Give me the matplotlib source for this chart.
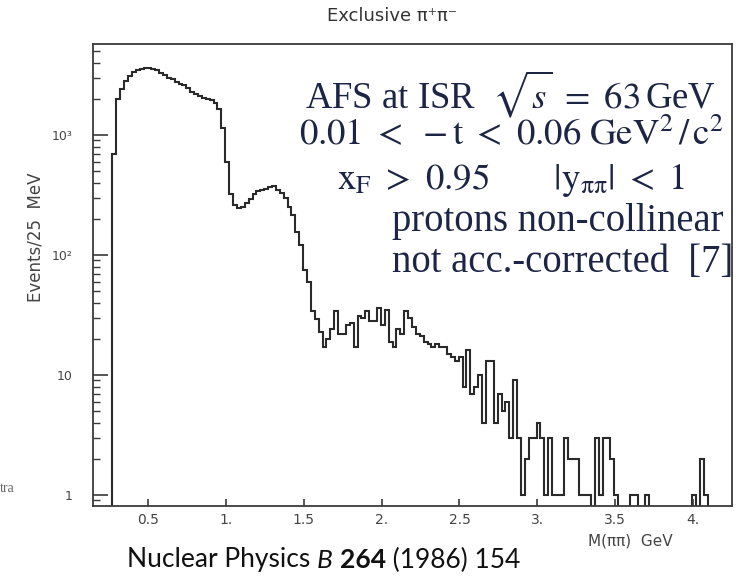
import numpy as np
import matplotlib
matplotlib.use("Agg")
import matplotlib.pyplot as plt
from matplotlib.ticker import FixedLocator, LogLocator, NullFormatter

# histogram: 25 MeV bins starting at 0.27 GeV
bin_start = 0.27
bin_width = 0.025
counts = [
    700, 2000, 2400, 2800, 3100, 3350, 3450, 3550, 3650, 3650,
    3550, 3450, 3300, 3150, 3000, 2900, 2780, 2680, 2600, 2450,
    2300, 2180, 2100, 2050, 2000, 1950, 1850, 1650, 1150, 590,
    325, 261, 248, 250, 270, 291, 320, 340, 350, 356,
    370, 375, 350, 330, 300, 250, 215, 155, 120, 75,
    60, 34, 29, 23, 17, 20, 24, 34, 22, 22,
    26, 27, 17, 31, 30, 34, 28, 28, 36, 26,
    35, 19, 17, 24, 22, 34, 30, 25, 22, 21,
    19, 18, 17, 18, 17, 17, 15, 14, 13, 14,
    8, 16, 7, 8, 10, 4, 13, 13, 4, 7,
    5, 6, 3, 9, 3, 1, 2, 3, 3, 4,
    3, 1, 3, 1, 1, 1, 3, 2, 2, 2,
    1, 1, 1, 0, 3, 1, 3, 3, 2, 1,
    0, 0, 0, 1, 1, 0, 0, 1, 0, 0,
    0, 0, 0, 0, 0, 0, 0, 0, 0, 1,
    0, 2, 1, 0,
]

x_ticks = [0.5, 1.0, 1.5, 2.0, 2.5, 3.0, 3.5, 4.0]
x_ticklabels = ["0.5", "1.", "1.5", "2.", "2.5", "3.", "3.5", "4."]
y_ticks = [1, 10, 100, 1000]
y_ticklabels = ["1", "10", "10²", "10³"]

info_lines = [
    r"AFS at ISR  $\sqrt{s}\ =\ 63\,$GeV",
    r"$0.01\ <\ -\mathrm{t}\ <\ 0.06\ \mathrm{GeV}^2\,/\,\mathrm{c}^2$",
    r"$\mathrm{x}_\mathrm{F}\ >\ 0.95$       $|\mathrm{y}_{\mathrm{\pi\pi}}|\ <\ 1$",
]
note_lines = ["protons non-collinear", "not acc.-corrected  [7]"]

plt.rcParams["mathtext.fontset"] = "stix"

W, H = 744, 577
fig = plt.figure(figsize=(W / 100, H / 100), dpi=100)
ax = fig.add_axes([93 / W, 1 - 505.7 / H, (732.3 - 93) / W, (505.7 - 44) / H])

edges = bin_start + bin_width * np.arange(len(counts) + 1)
vals = np.array(counts, dtype=float)
vals = np.where(vals > 0, vals, 0.3)
ax.stairs(vals, edges, baseline=0.3, color="#2a2a2a", lw=1.5)

ax.set_yscale("log")
ax.set_xlim(0.145, 4.253)
ax.set_ylim(0.814, 5730)

ink = "#3a3a3a"
for s in ax.spines.values():
    s.set_color(ink)
    s.set_linewidth(1.3)

ax.xaxis.set_major_locator(FixedLocator(x_ticks))
ax.set_xticklabels(x_ticklabels)
ax.yaxis.set_major_locator(FixedLocator(y_ticks))
ax.set_yticklabels(y_ticklabels)
ax.yaxis.set_minor_locator(LogLocator(base=10, subs=np.arange(2, 10)))
ax.yaxis.set_minor_formatter(NullFormatter())
ax.tick_params(axis="both", which="both", direction="in", colors=ink,
               top=False, right=False, labelsize=10, labelcolor="#444444")
ax.tick_params(axis="y", labelsize=9)
ax.tick_params(axis="x", which="major", length=5, width=1.2, pad=5)
ax.tick_params(axis="y", which="major", length=11, width=1.2, pad=15)
ax.tick_params(axis="y", which="minor", length=5, width=1.0)

fig.text(392 / W, 1 - 16 / H, "Exclusive π⁺π⁻", ha="center", va="center",
         fontsize=13, color="#333333")
fig.text(36 / W, 1 - 237 / H, "Events/25  MeV", rotation=90, ha="center",
         va="center", fontsize=12, color="#444444")
fig.text(630 / W, 1 - 541 / H, "M(ππ)  GeV", ha="center", va="center",
         fontsize=11, color="#444444")
fig.text(0.0, 1 - 489 / H, "tra", ha="left", va="center", fontsize=10,
         family="Liberation Serif", color="#666666")

navy = "#1c2545"
ys = [94, 136, 180]
for line, y in zip(info_lines, ys):
    fig.text(511 / W, 1 - y / H, line, ha="center", va="center",
             fontsize=26.5, family="Liberation Serif", color=navy)
for line, y in zip(note_lines, [222, 263]):
    fig.text(392 / W, 1 - y / H, line, ha="left", va="center",
             fontsize=27.8, family="Liberation Serif", color=navy)

# citation, built from pieces so B can be italic and 264 bold
renderer = fig.canvas.get_renderer()
x = 127
pieces = [("Nuclear Physics ", "normal", "normal"), ("B", "italic", "normal"),
          (" ", "normal", "normal"), ("264", "normal", "bold"),
          (" (1986) 154", "normal", "normal")]
for txt, style, weight in pieces:
    t = fig.text(x / W, 1 - 560 / H, txt, ha="left", va="center",
                 fontsize=19, family="Lato", style=style, weight=weight,
                 color="#111111")
    x = t.get_window_extent(renderer).x1

fig.savefig("out.png", dpi=100)
